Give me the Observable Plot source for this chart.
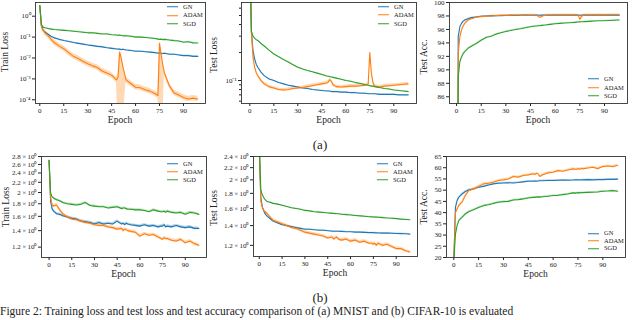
<!DOCTYPE html>
<html><head><meta charset="utf-8">
<script src="https://cdn.jsdelivr.net/npm/d3@7"></script>
<script src="https://cdn.jsdelivr.net/npm/@observablehq/plot@0.6"></script>
<style>
html,body{margin:0;padding:0;background:#fff;}
#root{position:relative;width:640px;height:320px;overflow:hidden;font-family:"Liberation Serif","Times New Roman",serif;color:#222;}
#root > svg{position:absolute;left:0;top:0;}
.t{position:absolute;white-space:nowrap;line-height:1;}
.xl{font-size:9.5px;transform:translate(-50%,-50%);}
.yl{font-size:9.5px;transform:translate(-50%,-50%) rotate(-90deg);}
.leg{position:absolute;font-size:6.5px;line-height:1;}
.leg .row{position:absolute;left:0;display:flex;align-items:center;transform:translateY(-50%);white-space:nowrap;}
.leg .sw{display:block;margin-right:5px;}
</style></head><body><div id="root"></div>
<script>
// ---------- data ----------
const seriesNames = ["GN", "ADAM", "SGD"];
const seriesColors = ["#1f77b4", "#ff7f0e", "#2ca02c"];
const epochTicks = [0, 15, 30, 45, 60, 75, 90];
const epochs = [0,1,2,3,4,5,7,9,12,15,18,21,24,27,30,33,36,39,42,45,48,49,50,51,52,54,57,60,63,66,69,72,74,75,76,77,78,81,84,87,90,93,96,99];

// (a) MNIST
const mnistTrainGN = [3.2,0.36,0.22,0.18,0.16,0.14,0.11,0.092,0.078,0.069,0.062,0.055,0.05,0.046,0.042,0.039,0.036,0.034,0.031,0.029,0.027,0.026,0.027,0.025,0.026,0.024,0.023,0.021,0.021,0.02,0.019,0.018,0.017,0.018,0.017,0.016,0.017,0.015,0.015,0.014,0.013,0.013,0.012,0.012];
const mnistTrainADAM = [3.2,0.32,0.22,0.17,0.14,0.12,0.08,0.055,0.038,0.028,0.018,0.012,0.0095,0.007,0.0053,0.0042,0.0035,0.0024,0.0019,0.0015,0.0009,0.0012,0.019,0.01,0.004,0.0009,0.0006,0.0004,0.00038,0.0003,0.00026,0.0002,0.00016,0.05,0.015,0.005,0.002,0.0005,0.00022,0.00017,0.00013,0.00011,0.00012,0.00011];
const mnistTrainSGD = [3.2,0.4,0.3,0.28,0.27,0.26,0.24,0.23,0.22,0.21,0.2,0.19,0.18,0.17,0.16,0.16,0.15,0.14,0.14,0.13,0.125,0.12,0.125,0.12,0.115,0.115,0.11,0.1,0.1,0.095,0.09,0.085,0.08,0.077,0.08,0.075,0.078,0.072,0.068,0.065,0.057,0.06,0.053,0.052];
const mnistTrainSpikeEpochs = [49,50,51,52,75,76,77];

const mnistTestGN = [2.3,0.33,0.21,0.171,0.15,0.139,0.123,0.113,0.104,0.1,0.095,0.092,0.089,0.087,0.085,0.083,0.082,0.08,0.079,0.078,0.077,0.077,0.077,0.076,0.076,0.076,0.075,0.075,0.074,0.074,0.073,0.073,0.072,0.072,0.072,0.072,0.072,0.071,0.071,0.071,0.071,0.07,0.07,0.07];
const mnistTestADAM = [2.3,0.33,0.178,0.139,0.122,0.113,0.1,0.092,0.086,0.083,0.08,0.079,0.08,0.082,0.083,0.084,0.086,0.088,0.09,0.092,0.094,0.096,0.102,0.098,0.09,0.086,0.085,0.086,0.087,0.087,0.088,0.089,0.091,0.2,0.12,0.095,0.087,0.085,0.087,0.088,0.089,0.09,0.091,0.092];
const mnistTestSGD = [2.3,0.34,0.3,0.285,0.275,0.27,0.25,0.235,0.212,0.193,0.18,0.168,0.158,0.148,0.139,0.133,0.128,0.124,0.12,0.116,0.112,0.111,0.11,0.109,0.108,0.106,0.103,0.1,0.098,0.095,0.093,0.09,0.089,0.088,0.087,0.087,0.086,0.084,0.082,0.081,0.079,0.078,0.077,0.076];

const mnistAccGN = [10,94.9,96.4,96.9,97.2,97.4,97.6,97.75,97.85,97.95,98.0,98.02,98.05,98.05,98.08,98.1,98.08,98.1,98.12,98.1,98.1,98.12,98.1,98.1,98.12,98.1,98.1,98.12,98.1,98.12,98.1,98.1,98.12,98.1,98.1,98.12,98.1,98.12,98.1,98.12,98.1,98.12,98.1,98.12];
const mnistAccADAM = [10,92.4,94.9,95.9,96.5,96.9,97.4,97.6,97.8,97.9,97.95,98.0,98.05,98.1,98.1,98.12,98.15,98.15,98.15,98.15,98.15,98.1,97.85,97.8,97.95,98.15,98.18,98.2,98.18,98.2,98.2,98.2,98.15,97.5,97.9,98.1,98.18,98.2,98.2,98.22,98.2,98.22,98.22,98.22];
const mnistAccSGD = [10,88.9,91.2,91.9,92.4,92.7,93.2,93.5,93.9,94.4,94.8,95.0,95.3,95.5,95.7,95.85,96.0,96.1,96.25,96.4,96.5,96.52,96.55,96.57,96.6,96.65,96.75,96.85,96.9,96.95,97.0,97.05,97.1,97.12,97.13,97.15,97.16,97.2,97.25,97.28,97.3,97.33,97.36,97.4];

// (b) CIFAR-10
const cifarTrainGN = [2.7,1.85,1.72,1.68,1.66,1.64,1.63,1.61,1.59,1.57,1.56,1.53,1.52,1.51,1.49,1.51,1.49,1.5,1.49,1.53,1.49,1.5,1.48,1.5,1.49,1.48,1.47,1.46,1.48,1.46,1.47,1.45,1.46,1.46,1.48,1.45,1.46,1.45,1.47,1.45,1.44,1.45,1.43,1.43];
const cifarTrainADAM = [2.7,1.92,1.78,1.76,1.77,1.78,1.7,1.64,1.59,1.56,1.55,1.53,1.51,1.5,1.48,1.47,1.47,1.45,1.44,1.42,1.43,1.4,1.42,1.41,1.4,1.39,1.38,1.33,1.36,1.34,1.35,1.32,1.3,1.29,1.31,1.3,1.3,1.28,1.27,1.29,1.25,1.27,1.24,1.22];
const cifarTrainSGD = [2.7,2.0,1.92,1.9,1.88,1.87,1.85,1.82,1.8,1.79,1.78,1.79,1.82,1.77,1.76,1.75,1.75,1.73,1.74,1.75,1.72,1.73,1.73,1.72,1.71,1.71,1.7,1.7,1.69,1.67,1.7,1.68,1.67,1.67,1.68,1.66,1.68,1.66,1.65,1.66,1.63,1.66,1.65,1.63];

const cifarTestGN = [2.6,1.75,1.62,1.57,1.53,1.51,1.48,1.45,1.43,1.41,1.4,1.39,1.38,1.37,1.36,1.36,1.355,1.35,1.35,1.345,1.34,1.34,1.34,1.34,1.34,1.338,1.335,1.335,1.33,1.33,1.328,1.325,1.325,1.325,1.323,1.323,1.322,1.32,1.32,1.318,1.316,1.315,1.313,1.31];
const cifarTestADAM = [2.6,1.7,1.62,1.57,1.56,1.54,1.5,1.46,1.44,1.42,1.4,1.38,1.37,1.35,1.33,1.32,1.31,1.3,1.29,1.27,1.28,1.26,1.27,1.28,1.26,1.25,1.26,1.24,1.25,1.23,1.24,1.22,1.22,1.21,1.22,1.2,1.22,1.2,1.21,1.19,1.17,1.17,1.15,1.14];
const cifarTestSGD = [2.6,1.85,1.78,1.74,1.71,1.69,1.68,1.665,1.655,1.64,1.625,1.61,1.6,1.59,1.576,1.57,1.56,1.555,1.55,1.545,1.54,1.538,1.537,1.536,1.535,1.53,1.525,1.52,1.515,1.51,1.505,1.5,1.498,1.497,1.496,1.495,1.494,1.49,1.485,1.482,1.478,1.472,1.468,1.465];

const cifarAccGN = [18,42.3,45.3,46.8,47.6,48.3,49.4,50.1,50.5,51.3,51.7,52.3,52.8,53.1,53.2,53.3,53.2,53.4,53.7,54.0,54.0,54.1,54.0,54.1,54.2,54.2,54.3,54.3,54.4,54.5,54.4,54.5,54.6,54.6,54.5,54.6,54.6,54.7,54.6,54.7,54.7,54.8,54.8,54.9];
const cifarAccADAM = [18,40.1,41.6,43.1,44,44.6,47.6,49.8,50.5,51.6,52.8,53.1,53.5,54.3,54.6,55.0,56.1,55.8,56.5,56.8,57.3,57.0,57.5,57.2,56.1,57.0,57.7,58.0,58.7,58.4,59.0,59.5,59.2,59.6,59.3,59.7,59.5,59.9,60.2,59.6,60.5,60.8,60.5,61.1];
const cifarAccSGD = [18,30.4,34.2,36.4,37.2,37.9,39.4,40.4,41.3,42.3,43.1,43.5,44.1,44.6,44.9,45.0,45.6,45.8,46.1,46.5,46.8,46.8,46.9,47.0,46.9,47.1,47.3,47.6,47.7,48.0,48.3,48.8,48.7,48.9,48.8,48.9,48.9,49.0,49.1,49.2,49.5,49.6,49.8,49.5];

// tick labels
const mnistTrainTicks = [1, 0.1, 0.01, 0.001, 0.0001];
const mnistTestTicks = [0.1];
const mnistTestMinorTicks = [0.06, 0.07, 0.08, 0.09, 0.2, 0.3, 0.4, 0.5, 0.6];
const mnistAccTicks = [86, 88, 90, 92, 94, 96, 98, 100];
const cifarTrainTicks = [1.2, 1.4, 1.6, 1.8, 2, 2.2, 2.4, 2.6, 2.8];
const cifarTestTicks = [1.2, 1.4, 1.6, 1.8, 2, 2.2, 2.4];
const cifarAccTicks = [20, 25, 30, 35, 40, 45, 50, 55, 60, 65];

// ---------- drawing ----------
const sup = {"-": "\u207b", "0": "\u2070", "1": "\u00b9", "2": "\u00b2", "3": "\u00b3", "4": "\u2074"};
const pow10 = v => "10" + String(Math.round(Math.log10(v))).split("").map(c => sup[c]).join("");
const times10 = v => String(v) + "\u2009\u00d7\u200910\u2070";

const panels = [
  {data: {GN: mnistTrainGN, ADAM: mnistTrainADAM, SGD: mnistTrainSGD}, frame: [35, 205, 2, 103], x: [-2.7, 103.8],
   type: "log", y: [6.65e-5, 4.52], ticks: mnistTrainTicks, fmt: pow10, band: {GN: 1.06, ADAM: 1.35, SGD: 1.06},
   spikes: mnistTrainSpikeEpochs, ylabel: "Train Loss", ylx: 6, yly: 52, legend: [167, 6.7, 8.6]},
  {data: {GN: mnistTestGN, ADAM: mnistTestADAM, SGD: mnistTestSGD}, frame: [241, 416, 2, 103], x: [-5.2, 104.2],
   type: "log", y: [0.0566, 0.69], ticks: mnistTestTicks, minor: mnistTestMinorTicks, fmt: pow10, band: {GN: 1.01, ADAM: 1.04, SGD: 1.01},
   ylabel: "Test Loss", ylx: 215, yly: 55, legend: [378, 6.7, 8.5]},
  {data: {GN: mnistAccGN, ADAM: mnistAccADAM, SGD: mnistAccSGD}, frame: [449, 627, 2, 103], x: [-4.3, 104],
   type: "linear", y: [85, 100], ticks: mnistAccTicks, fmt: d => String(d), band: {GN: 0.05, ADAM: 0.1, SGD: 0.06},
   ylabel: "Test Acc.", ylx: 425, yly: 57, legend: [588, 79, 8.5]},
  {data: {GN: cifarTrainGN, ADAM: cifarTrainADAM, SGD: cifarTrainSGD}, frame: [41, 206, 156, 257], x: [-5, 104],
   type: "log", y: [1.089, 2.8], ticks: cifarTrainTicks, fmt: times10, band: {GN: 1.012, ADAM: 1.015, SGD: 1.01},
   ylabel: "Train Loss", ylx: 7, yly: 207, legend: [167, 164, 8]},
  {data: {GN: cifarTestGN, ADAM: cifarTestADAM, SGD: cifarTestSGD}, frame: [253, 417, 156, 256], x: [-3.8, 104],
   type: "log", y: [1.10, 2.4], ticks: cifarTestTicks, fmt: times10, band: {GN: 1.004, ADAM: 1.012, SGD: 1.004},
   ylabel: "Test Loss", ylx: 215, yly: 208, legend: [377, 164, 8]},
  {data: {GN: cifarAccGN, ADAM: cifarAccADAM, SGD: cifarAccSGD}, frame: [446, 625, 156, 257], x: [-4.4, 103.7],
   type: "linear", y: [20, 65], ticks: cifarAccTicks, fmt: d => String(d), band: {GN: 0.3, ADAM: 0.45, SGD: 0.3},
   ylabel: "Test Acc.", ylx: 425, yly: 207, legend: [588, 233.3, 7.5]}
];

const root = document.getElementById("root");

function rowsFor(p) {
  const out = [];
  for (const s of seriesNames) {
    p.data[s].forEach((v, i) => {
      const e = epochs[i];
      const b = p.band[s];
      let lo = p.type === "log" ? v / b : v - b;
      const hi = p.type === "log" ? v * b : v + b;
      if (p.spikes && s === "ADAM" && p.spikes.includes(e)) lo = p.y[0] / 10;
      out.push({series: s, epoch: e, value: v, lo, hi});
    });
  }
  return out;
}

function addText(cls, txt, x, y) {
  const d = document.createElement("div");
  d.className = "t " + cls;
  d.textContent = txt;
  d.style.left = x + "px";
  d.style.top = y + "px";
  root.appendChild(d);
}

const NS = "http://www.w3.org/2000/svg";
for (const p of panels) {
  const [L, R, T, B] = p.frame;
  const rows = rowsFor(p);
  const marks = [
    Plot.areaY(rows, {x: "epoch", y1: "lo", y2: "hi", z: "series", fill: "series", fillOpacity: 0.3, clip: true}),
    Plot.lineY(rows, {x: "epoch", y: "value", z: "series", stroke: "series", strokeWidth: 1.1, clip: true}),
    Plot.axisX({ticks: epochTicks, tickSize: 3, tickPadding: 2, label: null}),
    Plot.axisY({ticks: p.ticks, tickFormat: p.fmt, tickSize: 3, tickPadding: 2, label: null})
  ];
  if (p.minor) marks.push(Plot.axisY({ticks: p.minor, tickFormat: () => "", tickSize: 2, label: null}));
  marks.push(Plot.frame({stroke: "#333", strokeWidth: 0.9}));
  const svg = Plot.plot({
    width: 640, height: 320,
    marginLeft: L, marginRight: 640 - R, marginTop: T, marginBottom: 320 - B,
    style: {background: "transparent", fontFamily: '"Liberation Serif", serif', fontSize: "7px", color: "#222", overflow: "visible"},
    x: {domain: p.x},
    y: {type: p.type, domain: p.y},
    color: {domain: seriesNames, range: seriesColors},
    marks
  });
  root.appendChild(svg);

  addText("yl", p.ylabel, p.ylx, p.yly);
  addText("xl", "Epoch", (L + R) / 2, B + 18);

  const [lx, ly, dy] = p.legend;
  const leg = document.createElement("div");
  leg.className = "leg";
  leg.style.left = lx + "px";
  leg.style.top = ly + "px";
  seriesNames.forEach((s, i) => {
    const r = document.createElement("div");
    r.className = "row";
    r.style.top = (i * dy) + "px";
    const sw = document.createElementNS(NS, "svg");
    sw.setAttribute("class", "sw");
    sw.setAttribute("width", "11");
    sw.setAttribute("height", "4");
    const ln = document.createElementNS(NS, "line");
    ln.setAttribute("x1", "0"); ln.setAttribute("x2", "11");
    ln.setAttribute("y1", "2"); ln.setAttribute("y2", "2");
    ln.setAttribute("stroke", seriesColors[i]);
    ln.setAttribute("stroke-width", "1.2");
    sw.appendChild(ln);
    const tx = document.createElement("span");
    tx.textContent = s;
    r.appendChild(sw); r.appendChild(tx);
    leg.appendChild(r);
  });
  root.appendChild(leg);
}

const a = document.createElement("div");
a.className = "t"; a.style.fontSize = "13px"; a.style.left = "320px"; a.style.top = "144px";
a.style.transform = "translate(-50%,-50%)"; a.textContent = "(a)";
root.appendChild(a);
const b = document.createElement("div");
b.className = "t"; b.style.fontSize = "13px"; b.style.left = "320px"; b.style.top = "297px";
b.style.transform = "translate(-50%,-50%)"; b.textContent = "(b)";
root.appendChild(b);
const cap = document.createElement("div");
cap.className = "t"; cap.style.fontSize = "11.5px"; cap.style.left = "0px"; cap.style.top = "306px";
cap.textContent = "Figure 2: Training loss and test loss and test accuracy comparison of (a) MNIST and (b) CIFAR-10 is evaluated";
root.appendChild(cap);
</script></body></html>
